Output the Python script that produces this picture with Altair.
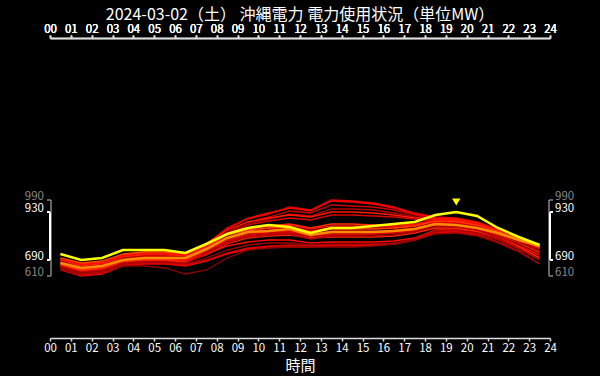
import altair as alt
import pandas as pd

# ---------------- data ----------------
hours = [h + 0.5 for h in range(24)]
hour_ticks = list(range(25))

today = [720, 690, 700, 740, 740, 740, 725, 770, 820, 850, 865, 855,
         825, 850, 850, 860, 870, 880, 915, 930, 910, 850, 805, 765]

average = [675, 650, 660, 690, 700, 700, 700, 745, 800, 830, 835, 845,
           815, 830, 830, 830, 835, 845, 870, 865, 850, 825, 790, 760]

past_days = [
    [690, 660, 670, 705, 715, 715, 715, 770, 850, 900, 925, 950, 935, 985, 980, 970, 950, 920, 900, 895, 875, 840, 800, 750],
    [680, 650, 660, 695, 705, 710, 710, 765, 845, 895, 920, 955, 940, 990, 985, 975, 955, 925, 905, 900, 880, 845, 805, 760],
    [670, 640, 650, 690, 700, 700, 700, 755, 830, 880, 905, 935, 925, 965, 960, 955, 940, 915, 895, 890, 870, 835, 795, 745],
    [660, 635, 645, 680, 690, 690, 690, 745, 825, 870, 895, 920, 910, 945, 945, 940, 925, 905, 890, 885, 865, 830, 785, 735],
    [700, 670, 680, 715, 725, 725, 720, 770, 840, 880, 900, 915, 905, 930, 930, 925, 915, 900, 895, 895, 875, 840, 800, 755],
    [675, 645, 655, 690, 700, 700, 700, 750, 820, 865, 885, 900, 890, 915, 915, 910, 905, 895, 885, 880, 860, 825, 780, 730],
    [690, 660, 670, 705, 715, 715, 710, 755, 815, 845, 860, 870, 850, 870, 870, 865, 860, 865, 885, 880, 865, 835, 795, 750],
    [680, 650, 660, 695, 705, 705, 700, 745, 805, 835, 850, 855, 835, 850, 850, 850, 850, 860, 880, 875, 860, 830, 790, 745],
    [670, 640, 650, 690, 700, 700, 695, 740, 800, 830, 840, 845, 820, 835, 835, 835, 840, 850, 875, 870, 855, 825, 780, 735],
    [665, 635, 645, 680, 690, 690, 690, 735, 790, 820, 830, 835, 810, 825, 825, 825, 830, 845, 870, 865, 850, 815, 775, 725],
    [700, 675, 685, 720, 730, 730, 720, 760, 815, 840, 850, 855, 830, 845, 845, 845, 850, 860, 885, 885, 865, 835, 795, 755],
    [655, 625, 635, 675, 685, 685, 680, 725, 780, 810, 820, 825, 800, 815, 815, 820, 825, 840, 865, 860, 845, 810, 765, 715],
    [685, 655, 665, 700, 710, 710, 705, 750, 800, 825, 835, 840, 815, 825, 830, 830, 835, 850, 870, 870, 855, 820, 780, 735],
    [660, 630, 640, 675, 685, 690, 685, 730, 785, 815, 825, 830, 810, 820, 820, 820, 825, 835, 860, 855, 840, 805, 760, 705],
    [675, 645, 655, 690, 695, 695, 690, 720, 760, 780, 790, 790, 775, 780, 780, 780, 785, 800, 840, 845, 830, 800, 760, 715],
    [660, 625, 635, 670, 680, 680, 670, 700, 740, 765, 775, 775, 765, 770, 770, 770, 775, 795, 835, 840, 825, 795, 750, 700],
    [650, 615, 625, 665, 675, 675, 665, 690, 725, 750, 760, 765, 760, 765, 765, 765, 770, 790, 830, 835, 820, 790, 745, 690],
    [640, 610, 620, 660, 670, 670, 660, 685, 720, 745, 755, 755, 755, 760, 760, 765, 770, 790, 825, 830, 815, 780, 735, 670],
    [665, 640, 650, 685, 690, 690, 680, 715, 770, 800, 810, 815, 800, 805, 805, 805, 810, 825, 850, 850, 835, 800, 755, 700],
    [645, 620, 630, 660, 660, 650, 620, 640, 700, 740, 750, 755, 755, 755, 755, 760, 770, 790, 820, 825, 810, 775, 730, 670],
    [650, 620, 630, 670, 680, 680, 675, 720, 775, 805, 815, 820, 795, 810, 810, 810, 815, 830, 860, 855, 840, 800, 750, 690],
    [695, 665, 675, 710, 720, 720, 715, 760, 820, 850, 860, 865, 845, 860, 860, 860, 860, 870, 890, 890, 870, 840, 800, 755],
]

past_colors = ["#ff0000", "#e60000", "#cc0000", "#b30000", "#ff1a00", "#d90000",
               "#ff3300", "#f00000", "#c00000", "#ff2200", "#ff4000", "#e00000",
               "#b80000", "#d00000", "#ff0d00", "#a00000", "#c80000", "#e80000",
               "#ff2a00", "#900000", "#b00000", "#ff1000"]

title_text = "2024-03-02（土） 沖縄電力 電力使用状況（単位MW）"
FONT = "Noto Sans CJK JP"

# ---------------- tables ----------------
rows = []
for i, vals in enumerate(past_days):
    for h, v in zip(hours, vals):
        rows.append({"series": i, "hour": h, "mw": v, "color": past_colors[i]})
past_df = pd.DataFrame(rows)
today_df = pd.DataFrame({"hour": hours, "mw": today})
avg_df = pd.DataFrame({"hour": hours, "mw": average})

all_vals = [v for d in past_days for v in d] + today
all_min, all_max = min(all_vals), max(all_vals)
t_min, t_max = min(today), max(today)
peak_idx = today.index(t_max)
peak_df = pd.DataFrame({"hour": [hours[peak_idx]], "mw": [t_max]})

grey_df = pd.DataFrame({"lo": [all_min], "hi": [all_max]})
white_df = pd.DataFrame({"lo": [t_min], "hi": [t_max]})
grey_pts = pd.DataFrame({"mw": [all_min, all_max], "label": [str(all_min), str(all_max)]})
white_pts = pd.DataFrame({"mw": [t_min, t_max], "label": [str(t_min), str(t_max)]})

# ---------------- scales / axes ----------------
xscale = alt.Scale(domain=[0, 24], nice=False)
yscale = alt.Scale(domain=[300, 1800], nice=False, zero=False)
label_expr = "(datum.value < 10 ? '0' : '') + datum.value"

def x_axis(orient, title=None):
    kw = dict(orient=orient, values=hour_ticks, labelExpr=label_expr, grid=False,
              domainColor="#dddddd", tickColor="#dddddd", labelColor="#ffffff",
              labelFont=FONT, labelFontSize=11.5, tickSize=3, labelPadding=1,
              domainWidth=1.5, tickWidth=1.5, labelFlush=False, labelOverlap=False)
    if title:
        kw.update(title=title, titleColor="#ffffff", titleFont=FONT, titleFontSize=15,
                  titleFontWeight="normal", titlePadding=5)
    else:
        kw.update(title=None)
    return alt.Axis(**kw)

X_bottom = alt.X("hour:Q", scale=xscale, axis=x_axis("bottom", "時間"))
X_top = alt.X("hour:Q", scale=xscale, axis=x_axis("top"))
Y = alt.Y("mw:Q", scale=yscale, axis=None)

past = alt.Chart(past_df).mark_line(strokeWidth=1.3).encode(
    x=X_bottom, y=Y, detail="series:N", color=alt.Color("color:N", scale=None)
)
avg_line = alt.Chart(avg_df).mark_line(strokeWidth=2.5, color="#ff8c00").encode(x=X_top, y=Y)
today_line = alt.Chart(today_df).mark_line(strokeWidth=2.5, color="#ffff00").encode(x=X_top, y=Y)
peak = alt.Chart(peak_df).mark_point(shape="triangle-down", filled=True, size=70,
                                     color="#ffff00", opacity=1, yOffset=-10).encode(x=X_top, y=Y)

def bracket(df, pts, color, width, x_edge, tick_dir, text_x, align):
    vert = alt.Chart(df).mark_rule(color=color, strokeWidth=width).encode(
        x=alt.value(x_edge), y=alt.Y("lo:Q", scale=yscale, axis=None), y2="hi:Q")
    ticks = alt.Chart(pts).mark_rule(color=color, strokeWidth=width).encode(
        x=alt.value(x_edge), x2=alt.value(x_edge + tick_dir), y=Y)
    labels = alt.Chart(pts).mark_text(color=color, font=FONT, fontSize=11.5, align=align,
                                      baseline="bottom", dy=2).encode(
        x=alt.value(text_x), y=Y, text="label:N")
    return [vert, ticks, labels]

layers = [past, avg_line, today_line, peak]
layers += bracket(grey_df, grey_pts, "#888888", 1.5, 1, -4, -6, "right")
layers += bracket(white_df, white_pts, "#ffffff", 2, 0, -3, -6, "right")
layers += bracket(grey_df, grey_pts, "#888888", 1.5, 499, 4, 505, "left")
layers += bracket(white_df, white_pts, "#ffffff", 2, 500, 3, 505, "left")

chart = alt.layer(*layers).resolve_axis(x="independent").properties(
    width=500, height=300,
    background="#000000",
    padding={"left": 50, "right": 50, "top": 38, "bottom": 38},
    autosize=alt.AutoSizeParams(type="none"),
    title=alt.TitleParams(title_text, color="#ffffff", font=FONT, fontSize=16,
                          fontWeight="normal", anchor="middle", offset=0),
).configure_view(stroke=None)

chart.save("out.html", embed_options={"renderer": "svg", "actions": False})
